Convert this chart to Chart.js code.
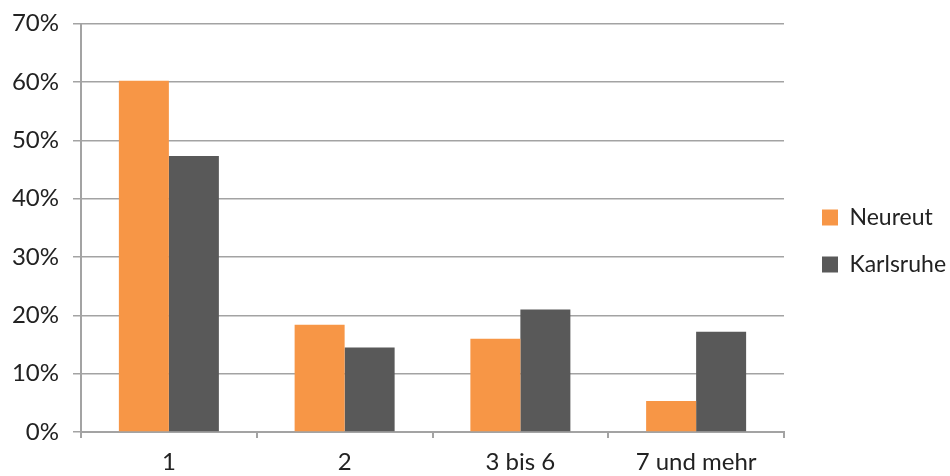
<!DOCTYPE html>
<html>
<head>
<meta charset="utf-8">
<script src="https://cdn.jsdelivr.net/npm/chart.js@4.4.0/dist/chart.umd.min.js"></script>
<style>
    html, body { margin: 0; padding: 0; background: #fff; }
    #wrap { width: 950px; height: 476px; }
</style>
</head>
<body>
<div id="wrap"><canvas id="chart"></canvas></div>
<script>
const categories = ['1', '2', '3 bis 6', '7 und mehr'];
const neureut = [60.2, 18.4, 16.0, 5.3];
const karlsruhe = [47.3, 14.5, 21.0, 17.2];
const yTicks = [0, 10, 20, 30, 40, 50, 60, 70];

const FONT = 'Lato, "Open Sans", sans-serif';
const GRID = '#a3a3a3';

// legend on the right with a fixed width and offset
const legendFix = {
    id: 'legendFix',
    beforeUpdate(chart) {
        const lg = chart.legend;
        if (lg && !lg._patched) {
            const orig = lg.fit;
            lg.fit = function () {
                orig.call(this);
                this.width = 166;
            };
            lg._patched = true;
        }
    },
    afterLayout(chart) {
        const lg = chart.legend;
        if (lg) {
            lg.left += 14;
            lg.right += 14;
            lg.top += 3;
            lg.bottom += 3;
        }
    }
};

const ctx = document.getElementById('chart');

new Chart(ctx, {
    type: 'bar',
    data: {
        labels: categories,
        datasets: [{
            label: 'Neureut',
            data: neureut,
            backgroundColor: '#f79646',
            borderWidth: 0
        }, {
            label: 'Karlsruhe',
            data: karlsruhe,
            backgroundColor: '#595959',
            borderWidth: 0
        }]
    },
    options: {
        responsive: true,
        maintainAspectRatio: false,
        animation: false,
        categoryPercentage: 0.569,
        barPercentage: 1,
        layout: { padding: { top: 0, left: 0, right: 0, bottom: 0 } },
        plugins: {
            legend: {
                position: 'right',
                labels: {
                    boxWidth: 16,
                    boxHeight: 16,
                    padding: 24,
                    color: '#222',
                    font: { family: FONT, size: 23 }
                }
            },
            tooltip: { enabled: false }
        },
        scales: {
            x: {
                grid: {
                    offset: true,
                    drawOnChartArea: false,
                    drawTicks: true,
                    tickLength: 6,
                    color: GRID,
                    lineWidth: 2
                },
                border: { color: GRID, width: 2 },
                ticks: {
                    color: '#222',
                    padding: 10,
                    font: { family: FONT, size: 24 },
                    maxRotation: 0
                },
                afterFit(scale) { scale.height = 44; }
            },
            y: {
                min: 0,
                max: 70,
                afterBuildTicks(scale) {
                    scale.ticks = yTicks.map(v => ({ value: v }));
                },
                grid: {
                    color: GRID,
                    lineWidth: 1.5,
                    tickLength: 8
                },
                border: { color: GRID, width: 2 },
                ticks: {
                    color: '#222',
                    padding: 14,
                    font: { family: FONT, size: 24, lineHeight: 0.8 },
                    callback: v => v + '%'
                },
                afterFit(scale) { scale.width = 81; }
            }
        }
    },
    plugins: [legendFix]
});
</script>
</body>
</html>
